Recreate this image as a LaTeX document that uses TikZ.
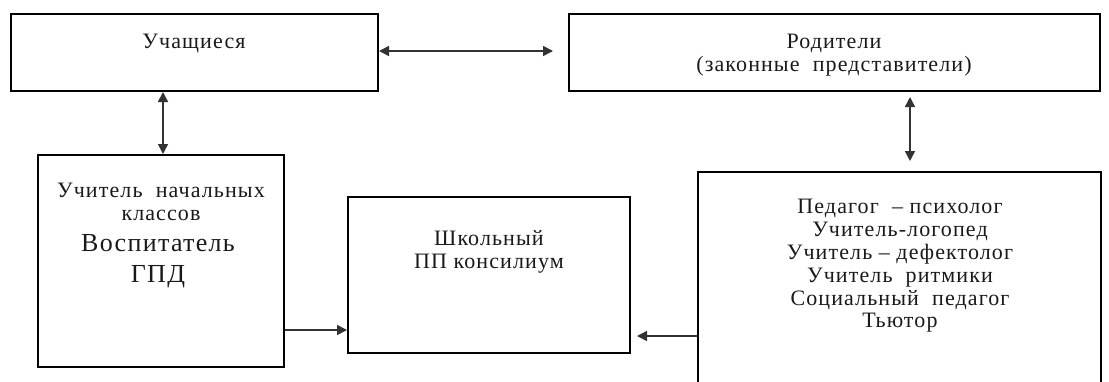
\documentclass[tikz,border=0pt]{standalone}
\usepackage{fontspec}
\setmainfont[LetterSpace=5]{Liberation Serif}
\usetikzlibrary{arrows.meta}
\begin{document}
\begin{tikzpicture}[x=1pt,y=-1pt,
  box/.style={draw=black,line width=2pt,minimum width=#1,inner sep=0pt,anchor=north west},
  lbl/.style={align=center,inner sep=0pt,text=black!90,font=\fontsize{22}{22.8}\selectfont},
  big/.style={align=center,inner sep=0pt,text=black!90,font=\fontsize{26}{31}\selectfont},
  conn/.style={line width=1.5pt,draw=black!80,{Triangle[length=10pt,width=10pt]}-{Triangle[length=10pt,width=10pt]}},
  one/.style={line width=1.5pt,draw=black!80,-{Triangle[length=10pt,width=10pt]}}]
\useasboundingbox (0,0) rectangle (1109,381);
\clip (0,0) rectangle (1109,381);
% boxes
\node[box=367pt,minimum height=77pt] (u) at (10,13) {};
\node[box=531pt,minimum height=77pt] (r) at (568,13) {};
\node[box=246pt,minimum height=212pt] (t) at (37,154) {};
\node[box=282pt,minimum height=156pt] (p) at (347,196) {};
\node[box=403pt,minimum height=230pt] (s) at (697,171) {};
% texts
\node[lbl] (ut) at (194,44) {Учащиеся};
\node[lbl] (rt) at (834,55) {Родители\\(законные\ \ представители)};
\node[lbl] (ta) at (161,202) {Учитель\ \ начальных\\классов};
\node[big] (tb) at (158,261) {Воспитатель\\ГПД};
\node[lbl] (pt) at (489,252) {Школьный\\ПП консилиум};
\node[lbl] (st) at (900,266) {Педагог\ \ – психолог\\Учитель-логопед\\Учитель – дефектолог\\Учитель\ \ ритмики\\Социальный\ \ педагог\\Тьютор};
% connector free ends
\coordinate (ua) at (553,51);
\coordinate (ra) at (910,97);
\coordinate (sa) at (910,161);
\coordinate (pa) at (637,336);
% connectors
\draw[conn] (u.east |- ua) -- (ua);
\draw[conn] (u.south -| 163,0) -- (t.north -| 163,0);
\draw[conn] (ra) -- (sa);
\draw[one] (t.east |- 0,330) -- (p.west |- 0,330);
\draw[one] (s.west |- pa) -- (pa);
\end{tikzpicture}
\end{document}
